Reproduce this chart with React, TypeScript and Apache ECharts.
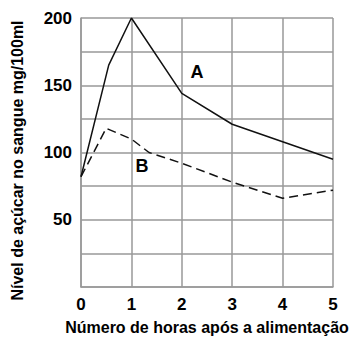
import React, { useEffect, useRef } from "react";
import * as echarts from "echarts";

const seriesA: [number, number][] = [[0, 82], [0.55, 165], [1, 200], [2, 144], [3, 121], [4, 108], [5, 95]];
const seriesB: [number, number][] = [[0, 82], [0.5, 118], [1, 110], [1.35, 100], [2, 92], [3, 78], [4, 66], [5, 72]];
const labelA: [number, number] = [2.3, 160];
const labelB: [number, number] = [1.21, 90];
const yLabels = [50, 100, 150, 200];
const xName = "Número de horas após a alimentação";
const yName = "Nível de açúcar no sangue mg/100ml";

const FONT = "'Liberation Sans', Arial, sans-serif";

export default function App() {
  const ref = useRef<HTMLDivElement>(null);
  useEffect(() => {
    const chart = echarts.init(ref.current!, null, { renderer: "svg" });
    const textStyle = { fontFamily: FONT, fontWeight: "bold" as const, fontSize: 16, color: "#000" };
    const tickStyle = { fontFamily: FONT, fontWeight: "bold" as const, fontSize: 17, color: "#000" };
    chart.setOption({
      animation: false,
      backgroundColor: "#fff",
      grid: { left: 81, right: 20, top: 18, bottom: 50, containLabel: false, outerBoundsMode: "none" },
      xAxis: {
        type: "value",
        min: 0,
        max: 5,
        interval: 1,
        name: xName,
        nameLocation: "middle",
        nameGap: 32,
        nameTextStyle: { ...textStyle },
        axisLine: { show: true, lineStyle: { color: "#999", width: 1.5 } },
        axisTick: { show: false },
        axisLabel: { ...tickStyle, margin: 9 },
        splitLine: { show: true, lineStyle: { color: "#999", width: 1.5 } },
      },
      yAxis: {
        type: "value",
        min: 0,
        max: 200,
        interval: 25,
        name: yName,
        nameLocation: "middle",
        nameGap: 56,
        nameRotate: 90,
        nameTextStyle: { ...textStyle, padding: [0, 16, 0, 0] },
        axisLine: { show: true, lineStyle: { color: "#999", width: 1.5 } },
        axisTick: { show: false },
        axisLabel: {
          ...tickStyle,
          margin: 9,
          formatter: (v: number) => (yLabels.includes(v) ? String(v) : ""),
        },
        splitLine: { show: true, lineStyle: { color: "#999", width: 1.5 } },
      },
      series: [
        {
          type: "line",
          data: seriesA,
          symbol: "none",
          lineStyle: { color: "#111", width: 1.5 },
          markPoint: {
            symbolSize: 0,
            data: [{ coord: labelA, label: { show: true, formatter: "A", ...tickStyle, fontSize: 18, position: "inside" } }],
          },
        },
        {
          type: "line",
          data: seriesB,
          symbol: "none",
          lineStyle: { color: "#111", width: 1.5, type: [9, 5] },
          markPoint: {
            symbolSize: 0,
            data: [{ coord: labelB, label: { show: true, formatter: "B", ...tickStyle, fontSize: 18, position: "inside" } }],
          },
        },
      ],
    });
    return () => chart.dispose();
  }, []);
  return <div ref={ref} style={{ width: 353, height: 337, position: "absolute", left: 0, top: 0 }} />;
}
